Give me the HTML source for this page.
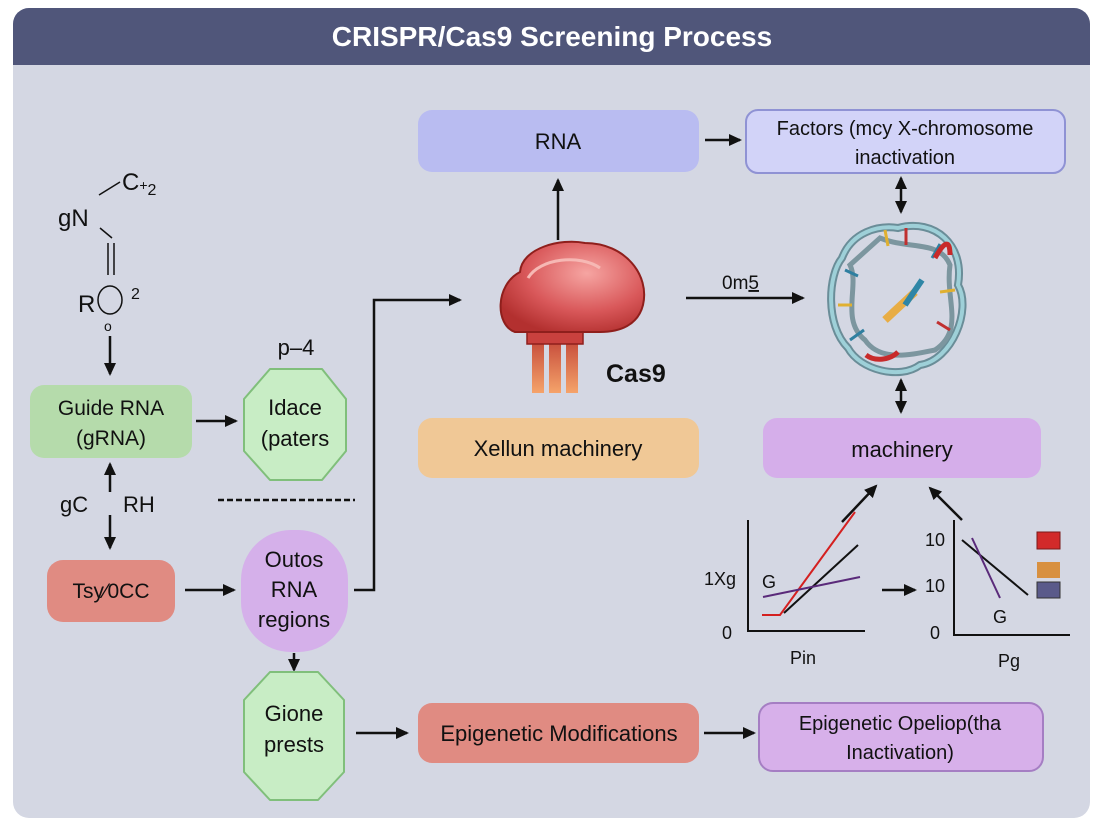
<!DOCTYPE html>
<html><head><meta charset="utf-8"><style>
html,body{margin:0;padding:0;background:#fff;}
svg{display:block;}
text{font-family:"Liberation Sans",sans-serif;}
</style></head><body>
<svg width="1104" height="832" viewBox="0 0 1104 832" xmlns="http://www.w3.org/2000/svg">
<defs>
<marker id="ah" markerWidth="14" markerHeight="14" refX="11" refY="7" orient="auto" markerUnits="userSpaceOnUse"><path d="M0,1 L13,7 L0,13 z" fill="#111"/></marker>
<marker id="ahs" markerWidth="14" markerHeight="14" refX="11" refY="7" orient="auto-start-reverse" markerUnits="userSpaceOnUse"><path d="M0,1 L13,7 L0,13 z" fill="#111"/></marker>
<radialGradient id="red" cx="0.6" cy="0.35" r="0.7"><stop offset="0" stop-color="#f6a5a2"/><stop offset="0.6" stop-color="#d9585a"/><stop offset="1" stop-color="#b3302f"/></radialGradient>
<linearGradient id="leg" x1="0" y1="0" x2="0" y2="1"><stop offset="0" stop-color="#b8322d"/><stop offset="1" stop-color="#f5a36a"/></linearGradient>
</defs>
<rect x="13" y="8" width="1077" height="810" rx="16" fill="#d4d7e3"/>
<path d="M13,24 a16,16 0 0 1 16,-16 h1045 a16,16 0 0 1 16,16 v41 h-1077 z" fill="#50567a"/>
<text x="552" y="46" text-anchor="middle" font-size="28" font-weight="bold" fill="#fff">CRISPR/Cas9 Screening Process</text>

<g stroke="#111" stroke-width="2.5" fill="none">
<line x1="705" y1="140" x2="740" y2="140" marker-end="url(#ah)"/>
<line x1="558" y1="240" x2="558" y2="180" marker-end="url(#ah)"/>
<line x1="686" y1="298" x2="803" y2="298" marker-end="url(#ah)"/>
<line x1="901" y1="178" x2="901" y2="212" marker-start="url(#ahs)" marker-end="url(#ah)"/>
<line x1="901" y1="380" x2="901" y2="412" marker-start="url(#ahs)" marker-end="url(#ah)"/>
<polyline points="354,590 374,590 374,300 460,300" marker-end="url(#ah)"/>
<line x1="110" y1="336" x2="110" y2="374" marker-end="url(#ah)"/>
<line x1="196" y1="421" x2="236" y2="421" marker-end="url(#ah)"/>
<line x1="110" y1="492" x2="110" y2="464" marker-end="url(#ah)"/>
<line x1="110" y1="515" x2="110" y2="548" marker-end="url(#ah)"/>
<line x1="218" y1="500" x2="355" y2="500" stroke-dasharray="6,3"/>
<line x1="185" y1="590" x2="234" y2="590" marker-end="url(#ah)"/>
<line x1="294" y1="653" x2="294" y2="670" marker-end="url(#ah)"/>
<line x1="356" y1="733" x2="407" y2="733" marker-end="url(#ah)"/>
<line x1="704" y1="733" x2="754" y2="733" marker-end="url(#ah)"/>
<line x1="842" y1="522" x2="876" y2="486" marker-end="url(#ah)"/>
<line x1="962" y1="520" x2="930" y2="488" marker-end="url(#ah)"/>
<line x1="882" y1="590" x2="915" y2="590" marker-end="url(#ah)"/>
</g>

<g stroke="#111" stroke-width="1.5" fill="none">
<line x1="99" y1="195" x2="120" y2="182"/>
<line x1="100" y1="228" x2="112" y2="238"/>
<line x1="108" y1="243" x2="108" y2="275"/>
<line x1="114" y1="243" x2="114" y2="275"/>
<ellipse cx="110" cy="300" rx="12" ry="14"/>
</g>
<text x="58" y="226" font-size="24" fill="#111">gN</text>
<text x="122" y="190" font-size="24" fill="#111">C<tspan font-size="14">+</tspan><tspan font-size="16" dy="5">2</tspan></text>
<text x="78" y="312" font-size="24" fill="#111">R</text>
<text x="131" y="299" font-size="16" fill="#111">2</text>
<text x="104" y="331" font-size="14" fill="#111">o</text>

<rect x="418" y="110" width="281" height="62" rx="14" fill="#b9bcf1"/>
<text x="558" y="149" text-anchor="middle" font-size="22" fill="#111">RNA</text>
<rect x="746" y="110" width="319" height="63" rx="12" fill="#d2d3f8" stroke="#8f92d4" stroke-width="2"/>
<text x="905" y="135" text-anchor="middle" font-size="20" fill="#111">Factors (mcy X-chromosome</text>
<text x="905" y="164" text-anchor="middle" font-size="20" fill="#111">inactivation</text>

<rect x="418" y="418" width="281" height="60" rx="14" fill="#f0c896"/>
<text x="558" y="456" text-anchor="middle" font-size="22" fill="#111">Xellun machinery</text>
<rect x="763" y="418" width="278" height="60" rx="14" fill="#d5aeea"/>
<text x="902" y="457" text-anchor="middle" font-size="22" fill="#111">machinery</text>

<rect x="418" y="703" width="281" height="60" rx="14" fill="#e08b82"/>
<text x="559" y="741" text-anchor="middle" font-size="22" fill="#111">Epigenetic Modifications</text>
<rect x="759" y="703" width="284" height="68" rx="14" fill="#d7b0ea" stroke="#a57ec3" stroke-width="2"/>
<text x="900" y="730" text-anchor="middle" font-size="20" fill="#111">Epigenetic Opeliop(tha</text>
<text x="900" y="759" text-anchor="middle" font-size="20" fill="#111">Inactivation)</text>

<rect x="30" y="385" width="162" height="73" rx="14" fill="#b5dbab"/>
<text x="111" y="415" text-anchor="middle" font-size="21" fill="#111">Guide RNA</text>
<text x="111" y="445" text-anchor="middle" font-size="21" fill="#111">(gRNA)</text>

<path d="M270,369 h52 l24,30 v52 l-24,29 h-52 l-26,-29 v-52 z" fill="#c8edc5" stroke="#80bf7b" stroke-width="2" stroke-linejoin="round"/>
<text x="296" y="355" text-anchor="middle" font-size="22" fill="#111">p–4</text>
<text x="295" y="415" text-anchor="middle" font-size="22" fill="#111">Idace</text>
<text x="295" y="446" text-anchor="middle" font-size="22" fill="#111">(paters</text>

<text x="60" y="512" font-size="22" fill="#111">gC</text>
<text x="123" y="512" font-size="22" fill="#111">RH</text>

<rect x="47" y="560" width="128" height="62" rx="16" fill="#e08b82"/>
<text x="111" y="598" text-anchor="middle" font-size="21" fill="#111">Tsy⁄0CC</text>

<rect x="241" y="530" width="107" height="122" rx="50" fill="#d5b0ea"/>
<text x="294" y="567" text-anchor="middle" font-size="22" fill="#111">Outos</text>
<text x="294" y="597" text-anchor="middle" font-size="22" fill="#111">RNA</text>
<text x="294" y="627" text-anchor="middle" font-size="22" fill="#111">regions</text>

<path d="M270,672 h48 l26,28 v72 l-26,28 h-48 l-26,-28 v-72 z" fill="#c8edc5" stroke="#80bf7b" stroke-width="2" stroke-linejoin="round"/>
<text x="294" y="721" text-anchor="middle" font-size="22" fill="#111">Gione</text>
<text x="294" y="752" text-anchor="middle" font-size="22" fill="#111">prests</text>

<g>
<rect x="532" y="325" width="12" height="68" fill="url(#leg)"/>
<rect x="549" y="325" width="12" height="68" fill="url(#leg)"/>
<rect x="566" y="325" width="12" height="68" fill="url(#leg)"/>
<rect x="527" y="322" width="56" height="22" fill="#c9413e" stroke="#8f1f1c" stroke-width="1.5"/>
<path d="M515,332 C495,325 495,285 520,272 C522,248 560,238 585,243 C625,243 650,275 643,305 C638,325 620,332 600,332 Z" fill="url(#red)" stroke="#8f1f1c" stroke-width="2"/>
<path d="M528,278 C540,258 580,254 600,268" stroke="#f6b8b4" stroke-width="3" fill="none"/>
</g>
<text x="606" y="382" font-size="25" font-weight="bold" fill="#111">Cas9</text>
<text x="722" y="289" font-size="19" fill="#111">0m<tspan text-decoration="underline">5</tspan></text>

<g fill="none">
<path d="M898,228 C935,218 965,245 958,285 C972,310 952,360 920,365 C900,380 860,370 848,348 C825,325 828,275 842,258 C852,232 878,225 898,228 Z" stroke="#6a8d98" stroke-width="8"/>
<path d="M898,228 C935,218 965,245 958,285 C972,310 952,360 920,365 C900,380 860,370 848,348 C825,325 828,275 842,258 C852,232 878,225 898,228 Z" stroke="#9ed0d8" stroke-width="4"/>
<path d="M880,238 C910,250 940,240 950,265 C945,300 965,330 935,350 C910,355 880,362 865,340 C840,320 860,285 850,265 Z" stroke="#7c969f" stroke-width="5"/>
<g stroke-width="3">
<line x1="885" y1="230" x2="888" y2="246" stroke="#e0b030"/>
<line x1="906" y1="228" x2="906" y2="245" stroke="#c03030"/>
<line x1="940" y1="244" x2="932" y2="258" stroke="#2f7fa0"/>
<line x1="955" y1="290" x2="940" y2="292" stroke="#e0b030"/>
<line x1="950" y1="330" x2="937" y2="322" stroke="#c03030"/>
<line x1="845" y1="270" x2="858" y2="276" stroke="#2f7fa0"/>
<line x1="838" y1="305" x2="852" y2="305" stroke="#e0b030"/>
<line x1="850" y1="340" x2="864" y2="330" stroke="#2f7fa0"/>
</g>
<path d="M935,258 C945,240 950,240 950,255" stroke="#c82a2a" stroke-width="5"/>
<path d="M866,355 C875,362 890,360 898,352" stroke="#c82a2a" stroke-width="5"/>
<path d="M885,320 L915,292" stroke="#e8ad45" stroke-width="8"/>
<path d="M905,305 L922,280" stroke="#2f86a6" stroke-width="6"/>
</g>

<g stroke="#111" stroke-width="2" fill="none">
<polyline points="748,520 748,631 865,631"/>
<polyline points="954,520 954,635 1070,635"/>
</g>
<polyline points="762,615 780,615 855,512" stroke="#d42020" stroke-width="2" fill="none"/>
<line x1="784" y1="613" x2="858" y2="545" stroke="#111" stroke-width="2"/>
<line x1="763" y1="597" x2="860" y2="577" stroke="#5a2a7a" stroke-width="2"/>
<line x1="962" y1="540" x2="1028" y2="595" stroke="#111" stroke-width="2"/>
<line x1="972" y1="538" x2="1000" y2="598" stroke="#5a2a7a" stroke-width="2"/>
<rect x="1037" y="532" width="23" height="17" fill="#d22a2a" stroke="#7a1a1a"/>
<rect x="1037" y="562" width="23" height="16" fill="#d89040"/>
<rect x="1037" y="582" width="23" height="16" fill="#5a5a8a" stroke="#333"/>
<g font-size="18" fill="#111">
<text x="704" y="585">1Xg</text>
<text x="762" y="588">G</text>
<text x="722" y="639">0</text>
<text x="790" y="664">Pin</text>
<text x="925" y="546">10</text>
<text x="925" y="592">10</text>
<text x="930" y="639">0</text>
<text x="993" y="623">G</text>
<text x="998" y="667">Pg</text>
</g>
</svg>
</body></html>
